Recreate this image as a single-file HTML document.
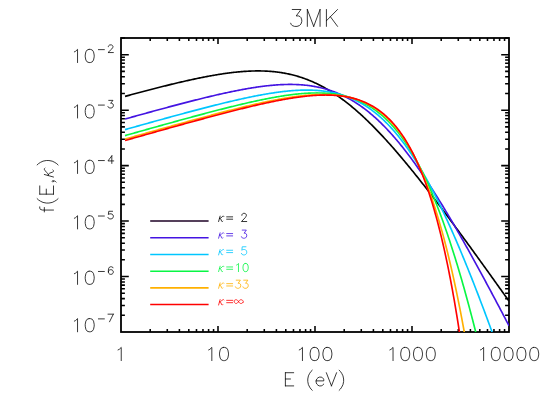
<!DOCTYPE html>
<html><head><meta charset="utf-8"><title>3MK</title>
<style>html,body{margin:0;padding:0;background:#fff;font-family:"Liberation Sans",sans-serif;}svg{display:block}</style>
</head><body>
<svg width="545" height="409" viewBox="0 0 545 409">
<rect width="545" height="409" fill="#fff"/>
<g fill="none" stroke-width="1.55">
<path d="M150.20 221.08 H208.60" stroke="#1c0024"/>
<path d="M150.20 237.77 H208.60" stroke="#4414e2"/>
<path d="M150.20 254.47 H208.60" stroke="#00c6ff"/>
<path d="M150.20 271.16 H208.60" stroke="#08f644"/>
<path d="M150.20 287.86 H208.60" stroke="#ffb000"/>
<path d="M150.20 304.56 H208.60" stroke="#ff0000"/>
</g>
<path d="M220.10 216.10 L218.60 221.53 M223.85 216.48 L223.47 216.10 L223.10 216.10 L222.35 216.48 L220.85 218.04 L220.10 218.42 L219.72 218.42 M219.72 218.42 L220.47 218.81 L220.85 219.20 L221.60 221.14 L221.97 221.53 L222.35 221.53 L222.72 221.14 M226.66 216.87 L232.66 216.87 M226.66 219.20 L232.66 219.20 M241.85 215.32 L241.85 214.93 L242.22 214.16 L242.60 213.77 L243.35 213.38 L244.85 213.38 L245.60 213.77 L245.97 214.16 L246.35 214.93 L246.35 215.71 L245.97 216.48 L245.22 217.65 L241.47 221.53 L246.72 221.53" fill="none" stroke="#000000" stroke-width="0.80" stroke-linecap="round" stroke-linejoin="round"/>
<path d="M220.10 232.79 L218.60 238.22 M223.85 233.18 L223.47 232.79 L223.10 232.79 L222.35 233.18 L220.85 234.73 L220.10 235.12 L219.72 235.12 M219.72 235.12 L220.47 235.51 L220.85 235.90 L221.60 237.84 L221.97 238.22 L222.35 238.22 L222.72 237.84 M226.66 233.57 L232.66 233.57 M226.66 235.90 L232.66 235.90 M242.22 230.08 L246.35 230.08 L244.10 233.18 L245.22 233.18 L245.97 233.57 L246.35 233.96 L246.72 235.12 L246.72 235.90 L246.35 237.06 L245.60 237.84 L244.47 238.22 L243.35 238.22 L242.22 237.84 L241.85 237.45 L241.47 236.67" fill="none" stroke="#4414e2" stroke-width="0.80" stroke-linecap="round" stroke-linejoin="round"/>
<path d="M220.10 249.49 L218.60 254.92 M223.85 249.87 L223.47 249.49 L223.10 249.49 L222.35 249.87 L220.85 251.43 L220.10 251.81 L219.72 251.81 M219.72 251.81 L220.47 252.20 L220.85 252.59 L221.60 254.53 L221.97 254.92 L222.35 254.92 L222.72 254.53 M226.66 250.26 L232.66 250.26 M226.66 252.59 L232.66 252.59 M245.97 246.77 L242.22 246.77 L241.85 250.26 L242.22 249.87 L243.35 249.49 L244.47 249.49 L245.60 249.87 L246.35 250.65 L246.72 251.81 L246.72 252.59 L246.35 253.75 L245.60 254.53 L244.47 254.92 L243.35 254.92 L242.22 254.53 L241.85 254.14 L241.47 253.37" fill="none" stroke="#00c6ff" stroke-width="0.80" stroke-linecap="round" stroke-linejoin="round"/>
<path d="M220.10 266.18 L218.60 271.61 M223.85 266.57 L223.47 266.18 L223.10 266.18 L222.35 266.57 L220.85 268.12 L220.10 268.51 L219.72 268.51 M219.72 268.51 L220.47 268.90 L220.85 269.29 L221.60 271.23 L221.97 271.61 L222.35 271.61 L222.72 271.23 M226.66 266.96 L232.66 266.96 M226.66 269.29 L232.66 269.29 M236.60 265.02 L237.35 264.63 L238.47 263.47 L238.47 271.61 M245.22 263.47 L244.10 263.85 L243.35 265.02 L242.97 266.96 L242.97 268.12 L243.35 270.06 L244.10 271.23 L245.22 271.61 L245.97 271.61 L247.10 271.23 L247.85 270.06 L248.22 268.12 L248.22 266.96 L247.85 265.02 L247.10 263.85 L245.97 263.47 L245.22 263.47" fill="none" stroke="#08f644" stroke-width="0.80" stroke-linecap="round" stroke-linejoin="round"/>
<path d="M220.10 282.88 L218.60 288.31 M223.85 283.27 L223.47 282.88 L223.10 282.88 L222.35 283.27 L220.85 284.82 L220.10 285.21 L219.72 285.21 M219.72 285.21 L220.47 285.59 L220.85 285.98 L221.60 287.92 L221.97 288.31 L222.35 288.31 L222.72 287.92 M226.66 283.65 L232.66 283.65 M226.66 285.98 L232.66 285.98 M236.22 280.16 L240.35 280.16 L238.10 283.27 L239.22 283.27 L239.97 283.65 L240.35 284.04 L240.72 285.21 L240.72 285.98 L240.35 287.15 L239.60 287.92 L238.47 288.31 L237.35 288.31 L236.22 287.92 L235.85 287.53 L235.47 286.76 M243.72 280.16 L247.85 280.16 L245.60 283.27 L246.72 283.27 L247.47 283.65 L247.85 284.04 L248.22 285.21 L248.22 285.98 L247.85 287.15 L247.10 287.92 L245.97 288.31 L244.85 288.31 L243.72 287.92 L243.35 287.53 L242.97 286.76" fill="none" stroke="#ffb000" stroke-width="0.80" stroke-linecap="round" stroke-linejoin="round"/>
<path d="M220.10 299.57 L218.60 305.01 M223.85 299.96 L223.47 299.57 L223.10 299.57 L222.35 299.96 L220.85 301.51 L220.10 301.90 L219.72 301.90 M219.72 301.90 L220.47 302.29 L220.85 302.68 L221.60 304.62 L221.97 305.01 L222.35 305.01 L222.72 304.62 M226.66 300.35 L232.66 300.35 M226.66 302.68 L232.66 302.68 M242.89 302.53 L242.43 302.99 L241.51 303.45 L240.59 303.45 L239.67 302.99 L239.22 302.53 L237.84 300.69 L237.38 300.23 L236.46 299.77 L235.54 299.77 L234.62 300.23 L234.16 300.69 L234.16 302.07 L234.62 302.53 L235.54 303.45 L236.46 303.45 L237.38 302.99 L237.84 302.53 L239.22 300.69 L239.67 300.23 L240.59 299.77 L241.51 299.77 L242.43 300.23 L242.89 300.69 L243.35 301.61 L242.89 302.53" fill="none" stroke="#ff0000" stroke-width="0.80" stroke-linecap="round" stroke-linejoin="round"/>
<rect x="121.0" y="38.0" width="388.0" height="294.0" fill="none" stroke="#000" stroke-width="1.8"/>
<path d="M150.20 332.00 v-2.90 M150.20 38.00 v2.90 M167.28 332.00 v-2.90 M167.28 38.00 v2.90 M179.40 332.00 v-2.90 M179.40 38.00 v2.90 M188.80 332.00 v-2.90 M188.80 38.00 v2.90 M196.48 332.00 v-2.90 M196.48 38.00 v2.90 M202.97 332.00 v-2.90 M202.97 38.00 v2.90 M208.60 332.00 v-2.90 M208.60 38.00 v2.90 M213.56 332.00 v-2.90 M213.56 38.00 v2.90 M218.00 332.00 v-5.90 M218.00 38.00 v5.90 M247.20 332.00 v-2.90 M247.20 38.00 v2.90 M264.28 332.00 v-2.90 M264.28 38.00 v2.90 M276.40 332.00 v-2.90 M276.40 38.00 v2.90 M285.80 332.00 v-2.90 M285.80 38.00 v2.90 M293.48 332.00 v-2.90 M293.48 38.00 v2.90 M299.97 332.00 v-2.90 M299.97 38.00 v2.90 M305.60 332.00 v-2.90 M305.60 38.00 v2.90 M310.56 332.00 v-2.90 M310.56 38.00 v2.90 M315.00 332.00 v-5.90 M315.00 38.00 v5.90 M344.20 332.00 v-2.90 M344.20 38.00 v2.90 M361.28 332.00 v-2.90 M361.28 38.00 v2.90 M373.40 332.00 v-2.90 M373.40 38.00 v2.90 M382.80 332.00 v-2.90 M382.80 38.00 v2.90 M390.48 332.00 v-2.90 M390.48 38.00 v2.90 M396.97 332.00 v-2.90 M396.97 38.00 v2.90 M402.60 332.00 v-2.90 M402.60 38.00 v2.90 M407.56 332.00 v-2.90 M407.56 38.00 v2.90 M412.00 332.00 v-5.90 M412.00 38.00 v5.90 M441.20 332.00 v-2.90 M441.20 38.00 v2.90 M458.28 332.00 v-2.90 M458.28 38.00 v2.90 M470.40 332.00 v-2.90 M470.40 38.00 v2.90 M479.80 332.00 v-2.90 M479.80 38.00 v2.90 M487.48 332.00 v-2.90 M487.48 38.00 v2.90 M493.97 332.00 v-2.90 M493.97 38.00 v2.90 M499.60 332.00 v-2.90 M499.60 38.00 v2.90 M504.56 332.00 v-2.90 M504.56 38.00 v2.90 M121.00 315.30 h3.90 M509.00 315.30 h-3.90 M121.00 305.54 h3.90 M509.00 305.54 h-3.90 M121.00 298.61 h3.90 M509.00 298.61 h-3.90 M121.00 293.23 h3.90 M509.00 293.23 h-3.90 M121.00 288.84 h3.90 M509.00 288.84 h-3.90 M121.00 285.13 h3.90 M509.00 285.13 h-3.90 M121.00 281.91 h3.90 M509.00 281.91 h-3.90 M121.00 279.08 h3.90 M509.00 279.08 h-3.90 M121.00 276.54 h7.80 M509.00 276.54 h-7.80 M121.00 259.84 h3.90 M509.00 259.84 h-3.90 M121.00 250.08 h3.90 M509.00 250.08 h-3.90 M121.00 243.15 h3.90 M509.00 243.15 h-3.90 M121.00 237.77 h3.90 M509.00 237.77 h-3.90 M121.00 233.38 h3.90 M509.00 233.38 h-3.90 M121.00 229.67 h3.90 M509.00 229.67 h-3.90 M121.00 226.45 h3.90 M509.00 226.45 h-3.90 M121.00 223.62 h3.90 M509.00 223.62 h-3.90 M121.00 221.08 h7.80 M509.00 221.08 h-7.80 M121.00 204.38 h3.90 M509.00 204.38 h-3.90 M121.00 194.62 h3.90 M509.00 194.62 h-3.90 M121.00 187.69 h3.90 M509.00 187.69 h-3.90 M121.00 182.31 h3.90 M509.00 182.31 h-3.90 M121.00 177.92 h3.90 M509.00 177.92 h-3.90 M121.00 174.21 h3.90 M509.00 174.21 h-3.90 M121.00 170.99 h3.90 M509.00 170.99 h-3.90 M121.00 168.15 h3.90 M509.00 168.15 h-3.90 M121.00 165.62 h7.80 M509.00 165.62 h-7.80 M121.00 148.92 h3.90 M509.00 148.92 h-3.90 M121.00 139.16 h3.90 M509.00 139.16 h-3.90 M121.00 132.23 h3.90 M509.00 132.23 h-3.90 M121.00 126.85 h3.90 M509.00 126.85 h-3.90 M121.00 122.46 h3.90 M509.00 122.46 h-3.90 M121.00 118.75 h3.90 M509.00 118.75 h-3.90 M121.00 115.53 h3.90 M509.00 115.53 h-3.90 M121.00 112.69 h3.90 M509.00 112.69 h-3.90 M121.00 110.16 h7.80 M509.00 110.16 h-7.80 M121.00 93.46 h3.90 M509.00 93.46 h-3.90 M121.00 83.69 h3.90 M509.00 83.69 h-3.90 M121.00 76.77 h3.90 M509.00 76.77 h-3.90 M121.00 71.39 h3.90 M509.00 71.39 h-3.90 M121.00 67.00 h3.90 M509.00 67.00 h-3.90 M121.00 63.29 h3.90 M509.00 63.29 h-3.90 M121.00 60.07 h3.90 M509.00 60.07 h-3.90 M121.00 57.23 h3.90 M509.00 57.23 h-3.90 M121.00 54.70 h7.80 M509.00 54.70 h-7.80 M121.00 38.00 h3.90 M509.00 38.00 h-3.90" fill="none" stroke="#000" stroke-width="1.55"/>
<defs><clipPath id="c"><rect x="121.0" y="38.0" width="388.0" height="294.0"/></clipPath></defs>
<g clip-path="url(#c)" fill="none" stroke-width="1.65" stroke-linejoin="round">
<path d="M125.02 96.38 L125.98 96.12 L126.94 95.86 L127.89 95.60 L128.85 95.34 L129.81 95.08 L130.77 94.82 L131.73 94.56 L132.69 94.31 L133.65 94.05 L134.61 93.79 L135.57 93.53 L136.53 93.28 L137.49 93.02 L138.45 92.77 L139.41 92.51 L140.37 92.26 L141.33 92.00 L142.29 91.75 L143.25 91.50 L144.21 91.24 L145.17 90.99 L146.13 90.74 L147.09 90.49 L148.05 90.24 L149.01 89.99 L149.97 89.74 L150.93 89.49 L151.89 89.24 L152.85 88.99 L153.81 88.74 L154.77 88.50 L155.73 88.25 L156.69 88.00 L157.65 87.76 L158.61 87.51 L159.57 87.27 L160.53 87.03 L161.49 86.79 L162.45 86.54 L163.41 86.30 L164.37 86.06 L165.33 85.83 L166.29 85.59 L167.25 85.35 L168.21 85.11 L169.17 84.88 L170.13 84.64 L171.09 84.41 L172.05 84.17 L173.01 83.94 L173.97 83.71 L174.93 83.48 L175.89 83.25 L176.85 83.02 L177.81 82.80 L178.77 82.57 L179.73 82.34 L180.69 82.12 L181.65 81.90 L182.61 81.68 L183.57 81.45 L184.53 81.24 L185.49 81.02 L186.45 80.80 L187.41 80.58 L188.37 80.37 L189.33 80.16 L190.29 79.95 L191.25 79.74 L192.21 79.53 L193.17 79.32 L194.13 79.11 L195.09 78.91 L196.05 78.71 L197.01 78.50 L197.97 78.30 L198.93 78.11 L199.89 77.91 L200.85 77.72 L201.81 77.52 L202.77 77.33 L203.73 77.14 L204.69 76.95 L205.65 76.77 L206.61 76.59 L207.57 76.40 L208.53 76.22 L209.49 76.05 L210.45 75.87 L211.41 75.70 L212.37 75.53 L213.33 75.36 L214.29 75.19 L215.25 75.03 L216.21 74.86 L217.17 74.71 L218.13 74.55 L219.09 74.39 L220.05 74.24 L221.01 74.09 L221.97 73.95 L222.93 73.80 L223.89 73.66 L224.85 73.52 L225.81 73.39 L226.77 73.25 L227.73 73.12 L228.69 73.00 L229.65 72.87 L230.61 72.75 L231.57 72.64 L232.53 72.52 L233.49 72.41 L234.45 72.30 L235.41 72.20 L236.37 72.10 L237.33 72.00 L238.29 71.91 L239.25 71.82 L240.21 71.74 L241.17 71.65 L242.13 71.58 L243.09 71.50 L244.05 71.43 L245.01 71.37 L245.97 71.31 L246.93 71.25 L247.89 71.20 L248.85 71.15 L249.81 71.10 L250.77 71.06 L251.73 71.03 L252.69 71.00 L253.65 70.97 L254.61 70.95 L255.57 70.94 L256.53 70.93 L257.49 70.92 L258.45 70.92 L259.41 70.93 L260.37 70.94 L261.33 70.95 L262.29 70.97 L263.25 71.00 L264.21 71.03 L265.17 71.07 L266.13 71.12 L267.09 71.16 L268.05 71.22 L269.01 71.28 L269.97 71.35 L270.93 71.43 L271.89 71.51 L272.85 71.59 L273.81 71.69 L274.77 71.79 L275.73 71.89 L276.69 72.01 L277.65 72.13 L278.61 72.25 L279.57 72.39 L280.53 72.53 L281.49 72.68 L282.45 72.83 L283.41 72.99 L284.37 73.16 L285.33 73.34 L286.29 73.53 L287.25 73.72 L288.21 73.92 L289.17 74.13 L290.13 74.34 L291.09 74.57 L292.05 74.80 L293.01 75.04 L293.97 75.29 L294.93 75.54 L295.89 75.81 L296.85 76.08 L297.81 76.36 L298.77 76.65 L299.73 76.94 L300.69 77.25 L301.65 77.57 L302.61 77.89 L303.57 78.22 L304.53 78.56 L305.49 78.91 L306.45 79.27 L307.41 79.64 L308.37 80.01 L309.33 80.40 L310.29 80.79 L311.25 81.20 L312.21 81.61 L313.17 82.03 L314.13 82.46 L315.09 82.90 L316.05 83.35 L317.01 83.81 L317.97 84.28 L318.93 84.75 L319.89 85.24 L320.85 85.74 L321.81 86.24 L322.77 86.76 L323.73 87.28 L324.69 87.81 L325.65 88.36 L326.61 88.91 L327.57 89.47 L328.53 90.04 L329.49 90.62 L330.45 91.21 L331.41 91.81 L332.37 92.42 L333.33 93.03 L334.29 93.66 L335.25 94.30 L336.21 94.94 L337.17 95.60 L338.13 96.26 L339.09 96.93 L340.05 97.61 L341.01 98.31 L341.97 99.01 L342.93 99.72 L343.89 100.43 L344.85 101.16 L345.81 101.90 L346.77 102.64 L347.73 103.40 L348.69 104.16 L349.65 104.93 L350.61 105.71 L351.57 106.50 L352.53 107.30 L353.49 108.10 L354.45 108.92 L355.41 109.74 L356.37 110.57 L357.33 111.41 L358.29 112.26 L359.25 113.11 L360.21 113.98 L361.17 114.85 L362.13 115.73 L363.09 116.61 L364.05 117.51 L365.01 118.41 L365.97 119.32 L366.93 120.24 L367.89 121.16 L368.85 122.10 L369.81 123.04 L370.77 123.98 L371.73 124.94 L372.69 125.90 L373.65 126.87 L374.61 127.84 L375.57 128.82 L376.53 129.81 L377.49 130.81 L378.45 131.81 L379.41 132.82 L380.37 133.83 L381.33 134.86 L382.28 135.88 L383.24 136.92 L384.20 137.96 L385.16 139.00 L386.12 140.05 L387.08 141.11 L388.04 142.18 L389.00 143.24 L389.96 144.32 L390.92 145.40 L391.88 146.48 L392.84 147.58 L393.80 148.67 L394.76 149.77 L395.72 150.88 L396.68 151.99 L397.64 153.11 L398.60 154.23 L399.56 155.36 L400.52 156.49 L401.48 157.62 L402.44 158.76 L403.40 159.91 L404.36 161.06 L405.32 162.21 L406.28 163.37 L407.24 164.53 L408.20 165.69 L409.16 166.86 L410.12 168.04 L411.08 169.22 L412.04 170.40 L413.00 171.58 L413.96 172.77 L414.92 173.97 L415.88 175.16 L416.84 176.36 L417.80 177.57 L418.76 178.78 L419.72 179.99 L420.68 181.20 L421.64 182.42 L422.60 183.64 L423.56 184.86 L424.52 186.09 L425.48 187.32 L426.44 188.55 L427.40 189.78 L428.36 191.02 L429.32 192.26 L430.28 193.51 L431.24 194.75 L432.20 196.00 L433.16 197.25 L434.12 198.51 L435.08 199.76 L436.04 201.02 L437.00 202.28 L437.96 203.55 L438.92 204.81 L439.88 206.08 L440.84 207.35 L441.80 208.62 L442.76 209.90 L443.72 211.18 L444.68 212.45 L445.64 213.73 L446.60 215.02 L447.56 216.30 L448.52 217.59 L449.48 218.88 L450.44 220.17 L451.40 221.46 L452.36 222.75 L453.32 224.05 L454.28 225.34 L455.24 226.64 L456.20 227.94 L457.16 229.24 L458.12 230.55 L459.08 231.85 L460.04 233.16 L461.00 234.47 L461.96 235.77 L462.92 237.09 L463.88 238.40 L464.84 239.71 L465.80 241.02 L466.76 242.34 L467.72 243.66 L468.68 244.97 L469.64 246.29 L470.60 247.61 L471.56 248.94 L472.52 250.26 L473.48 251.58 L474.44 252.91 L475.40 254.23 L476.36 255.56 L477.32 256.89 L478.28 258.21 L479.24 259.54 L480.20 260.88 L481.16 262.21 L482.12 263.54 L483.08 264.87 L484.04 266.21 L485.00 267.54 L485.96 268.88 L486.92 270.21 L487.88 271.55 L488.84 272.89 L489.80 274.23 L490.76 275.57 L491.72 276.91 L492.68 278.25 L493.64 279.59 L494.60 280.93 L495.56 282.28 L496.52 283.62 L497.48 284.96 L498.44 286.31 L499.40 287.66 L500.36 289.00 L501.32 290.35 L502.28 291.70 L503.24 293.04 L504.20 294.39 L505.16 295.74 L506.12 297.09 L507.08 298.44 L508.04 299.79 L509.00 301.14" stroke="#000000"/>
<path d="M125.02 119.04 L125.98 118.77 L126.94 118.50 L127.89 118.23 L128.85 117.97 L129.81 117.70 L130.77 117.43 L131.73 117.16 L132.69 116.90 L133.65 116.63 L134.61 116.36 L135.57 116.10 L136.53 115.83 L137.49 115.56 L138.45 115.30 L139.41 115.03 L140.37 114.77 L141.33 114.50 L142.29 114.24 L143.25 113.97 L144.21 113.71 L145.17 113.44 L146.13 113.18 L147.09 112.91 L148.05 112.65 L149.01 112.39 L149.97 112.12 L150.93 111.86 L151.89 111.60 L152.85 111.33 L153.81 111.07 L154.77 110.81 L155.73 110.55 L156.69 110.29 L157.65 110.02 L158.61 109.76 L159.57 109.50 L160.53 109.24 L161.49 108.98 L162.45 108.72 L163.41 108.46 L164.37 108.21 L165.33 107.95 L166.29 107.69 L167.25 107.43 L168.21 107.17 L169.17 106.92 L170.13 106.66 L171.09 106.40 L172.05 106.15 L173.01 105.89 L173.97 105.64 L174.93 105.38 L175.89 105.13 L176.85 104.88 L177.81 104.62 L178.77 104.37 L179.73 104.12 L180.69 103.87 L181.65 103.62 L182.61 103.37 L183.57 103.12 L184.53 102.87 L185.49 102.62 L186.45 102.37 L187.41 102.12 L188.37 101.87 L189.33 101.63 L190.29 101.38 L191.25 101.14 L192.21 100.89 L193.17 100.65 L194.13 100.40 L195.09 100.16 L196.05 99.92 L197.01 99.68 L197.97 99.44 L198.93 99.20 L199.89 98.96 L200.85 98.72 L201.81 98.49 L202.77 98.25 L203.73 98.02 L204.69 97.78 L205.65 97.55 L206.61 97.32 L207.57 97.08 L208.53 96.85 L209.49 96.62 L210.45 96.39 L211.41 96.17 L212.37 95.94 L213.33 95.72 L214.29 95.49 L215.25 95.27 L216.21 95.05 L217.17 94.82 L218.13 94.60 L219.09 94.39 L220.05 94.17 L221.01 93.95 L221.97 93.74 L222.93 93.53 L223.89 93.31 L224.85 93.10 L225.81 92.89 L226.77 92.69 L227.73 92.48 L228.69 92.28 L229.65 92.07 L230.61 91.87 L231.57 91.67 L232.53 91.47 L233.49 91.28 L234.45 91.08 L235.41 90.89 L236.37 90.70 L237.33 90.51 L238.29 90.32 L239.25 90.14 L240.21 89.95 L241.17 89.77 L242.13 89.59 L243.09 89.41 L244.05 89.24 L245.01 89.07 L245.97 88.89 L246.93 88.73 L247.89 88.56 L248.85 88.40 L249.81 88.23 L250.77 88.08 L251.73 87.92 L252.69 87.77 L253.65 87.61 L254.61 87.47 L255.57 87.32 L256.53 87.18 L257.49 87.04 L258.45 86.90 L259.41 86.76 L260.37 86.63 L261.33 86.50 L262.29 86.38 L263.25 86.26 L264.21 86.14 L265.17 86.02 L266.13 85.91 L267.09 85.80 L268.05 85.70 L269.01 85.60 L269.97 85.50 L270.93 85.41 L271.89 85.32 L272.85 85.23 L273.81 85.15 L274.77 85.07 L275.73 84.99 L276.69 84.92 L277.65 84.86 L278.61 84.80 L279.57 84.74 L280.53 84.69 L281.49 84.64 L282.45 84.60 L283.41 84.56 L284.37 84.52 L285.33 84.50 L286.29 84.47 L287.25 84.45 L288.21 84.44 L289.17 84.43 L290.13 84.43 L291.09 84.43 L292.05 84.44 L293.01 84.46 L293.97 84.47 L294.93 84.50 L295.89 84.53 L296.85 84.57 L297.81 84.61 L298.77 84.66 L299.73 84.72 L300.69 84.78 L301.65 84.85 L302.61 84.93 L303.57 85.01 L304.53 85.10 L305.49 85.20 L306.45 85.30 L307.41 85.41 L308.37 85.53 L309.33 85.66 L310.29 85.79 L311.25 85.93 L312.21 86.08 L313.17 86.24 L314.13 86.40 L315.09 86.57 L316.05 86.75 L317.01 86.94 L317.97 87.14 L318.93 87.34 L319.89 87.56 L320.85 87.78 L321.81 88.01 L322.77 88.25 L323.73 88.50 L324.69 88.76 L325.65 89.03 L326.61 89.31 L327.57 89.59 L328.53 89.89 L329.49 90.20 L330.45 90.51 L331.41 90.84 L332.37 91.18 L333.33 91.52 L334.29 91.88 L335.25 92.24 L336.21 92.62 L337.17 93.01 L338.13 93.41 L339.09 93.82 L340.05 94.23 L341.01 94.66 L341.97 95.11 L342.93 95.56 L343.89 96.02 L344.85 96.50 L345.81 96.98 L346.77 97.48 L347.73 97.99 L348.69 98.51 L349.65 99.04 L350.61 99.58 L351.57 100.14 L352.53 100.71 L353.49 101.28 L354.45 101.87 L355.41 102.48 L356.37 103.09 L357.33 103.72 L358.29 104.36 L359.25 105.01 L360.21 105.67 L361.17 106.35 L362.13 107.04 L363.09 107.74 L364.05 108.45 L365.01 109.17 L365.97 109.91 L366.93 110.66 L367.89 111.42 L368.85 112.20 L369.81 112.99 L370.77 113.78 L371.73 114.60 L372.69 115.42 L373.65 116.26 L374.61 117.11 L375.57 117.97 L376.53 118.85 L377.49 119.73 L378.45 120.63 L379.41 121.55 L380.37 122.47 L381.33 123.41 L382.28 124.36 L383.24 125.32 L384.20 126.29 L385.16 127.28 L386.12 128.28 L387.08 129.29 L388.04 130.31 L389.00 131.34 L389.96 132.39 L390.92 133.45 L391.88 134.52 L392.84 135.60 L393.80 136.70 L394.76 137.80 L395.72 138.92 L396.68 140.05 L397.64 141.19 L398.60 142.34 L399.56 143.51 L400.52 144.68 L401.48 145.87 L402.44 147.06 L403.40 148.27 L404.36 149.49 L405.32 150.72 L406.28 151.96 L407.24 153.21 L408.20 154.47 L409.16 155.74 L410.12 157.03 L411.08 158.32 L412.04 159.62 L413.00 160.94 L413.96 162.26 L414.92 163.59 L415.88 164.93 L416.84 166.29 L417.80 167.65 L418.76 169.02 L419.72 170.40 L420.68 171.79 L421.64 173.19 L422.60 174.60 L423.56 176.01 L424.52 177.44 L425.48 178.87 L426.44 180.32 L427.40 181.77 L428.36 183.23 L429.32 184.70 L430.28 186.17 L431.24 187.66 L432.20 189.15 L433.16 190.65 L434.12 192.16 L435.08 193.67 L436.04 195.19 L437.00 196.72 L437.96 198.26 L438.92 199.81 L439.88 201.36 L440.84 202.92 L441.80 204.48 L442.76 206.05 L443.72 207.63 L444.68 209.22 L445.64 210.81 L446.60 212.41 L447.56 214.01 L448.52 215.62 L449.48 217.24 L450.44 218.86 L451.40 220.49 L452.36 222.12 L453.32 223.76 L454.28 225.41 L455.24 227.06 L456.20 228.71 L457.16 230.38 L458.12 232.04 L459.08 233.71 L460.04 235.39 L461.00 237.07 L461.96 238.76 L462.92 240.45 L463.88 242.14 L464.84 243.84 L465.80 245.55 L466.76 247.26 L467.72 248.97 L468.68 250.69 L469.64 252.41 L470.60 254.14 L471.56 255.87 L472.52 257.60 L473.48 259.34 L474.44 261.08 L475.40 262.82 L476.36 264.57 L477.32 266.33 L478.28 268.08 L479.24 269.84 L480.20 271.60 L481.16 273.37 L482.12 275.14 L483.08 276.91 L484.04 278.69 L485.00 280.47 L485.96 282.25 L486.92 284.03 L487.88 285.82 L488.84 287.61 L489.80 289.40 L490.76 291.20 L491.72 293.00 L492.68 294.80 L493.64 296.60 L494.60 298.41 L495.56 300.22 L496.52 302.03 L497.48 303.84 L498.44 305.66 L499.40 307.48 L500.36 309.30 L501.32 311.12 L502.28 312.94 L503.24 314.77 L504.20 316.60 L505.16 318.43 L506.12 320.26 L507.08 322.09 L508.04 323.93 L509.00 325.77" stroke="#4414e2"/>
<path d="M125.02 129.64 L125.98 129.37 L126.94 129.10 L127.89 128.83 L128.85 128.56 L129.81 128.29 L130.77 128.02 L131.73 127.75 L132.69 127.48 L133.65 127.21 L134.61 126.94 L135.57 126.67 L136.53 126.40 L137.49 126.13 L138.45 125.86 L139.41 125.60 L140.37 125.33 L141.33 125.06 L142.29 124.79 L143.25 124.52 L144.21 124.25 L145.17 123.99 L146.13 123.72 L147.09 123.45 L148.05 123.18 L149.01 122.91 L149.97 122.65 L150.93 122.38 L151.89 122.11 L152.85 121.85 L153.81 121.58 L154.77 121.31 L155.73 121.05 L156.69 120.78 L157.65 120.52 L158.61 120.25 L159.57 119.98 L160.53 119.72 L161.49 119.45 L162.45 119.19 L163.41 118.92 L164.37 118.66 L165.33 118.40 L166.29 118.13 L167.25 117.87 L168.21 117.60 L169.17 117.34 L170.13 117.08 L171.09 116.82 L172.05 116.55 L173.01 116.29 L173.97 116.03 L174.93 115.77 L175.89 115.51 L176.85 115.25 L177.81 114.99 L178.77 114.73 L179.73 114.47 L180.69 114.21 L181.65 113.95 L182.61 113.69 L183.57 113.43 L184.53 113.17 L185.49 112.91 L186.45 112.65 L187.41 112.40 L188.37 112.14 L189.33 111.88 L190.29 111.63 L191.25 111.37 L192.21 111.12 L193.17 110.86 L194.13 110.61 L195.09 110.36 L196.05 110.10 L197.01 109.85 L197.97 109.60 L198.93 109.35 L199.89 109.09 L200.85 108.84 L201.81 108.59 L202.77 108.34 L203.73 108.10 L204.69 107.85 L205.65 107.60 L206.61 107.35 L207.57 107.11 L208.53 106.86 L209.49 106.61 L210.45 106.37 L211.41 106.13 L212.37 105.88 L213.33 105.64 L214.29 105.40 L215.25 105.16 L216.21 104.92 L217.17 104.68 L218.13 104.44 L219.09 104.20 L220.05 103.96 L221.01 103.73 L221.97 103.49 L222.93 103.26 L223.89 103.02 L224.85 102.79 L225.81 102.56 L226.77 102.33 L227.73 102.10 L228.69 101.87 L229.65 101.64 L230.61 101.42 L231.57 101.19 L232.53 100.97 L233.49 100.74 L234.45 100.52 L235.41 100.30 L236.37 100.08 L237.33 99.86 L238.29 99.64 L239.25 99.43 L240.21 99.21 L241.17 99.00 L242.13 98.79 L243.09 98.58 L244.05 98.37 L245.01 98.16 L245.97 97.96 L246.93 97.75 L247.89 97.55 L248.85 97.35 L249.81 97.15 L250.77 96.95 L251.73 96.75 L252.69 96.56 L253.65 96.37 L254.61 96.18 L255.57 95.99 L256.53 95.80 L257.49 95.62 L258.45 95.43 L259.41 95.25 L260.37 95.07 L261.33 94.90 L262.29 94.72 L263.25 94.55 L264.21 94.38 L265.17 94.21 L266.13 94.05 L267.09 93.88 L268.05 93.72 L269.01 93.56 L269.97 93.41 L270.93 93.26 L271.89 93.11 L272.85 92.96 L273.81 92.81 L274.77 92.67 L275.73 92.53 L276.69 92.40 L277.65 92.27 L278.61 92.14 L279.57 92.01 L280.53 91.89 L281.49 91.77 L282.45 91.65 L283.41 91.54 L284.37 91.43 L285.33 91.32 L286.29 91.22 L287.25 91.12 L288.21 91.03 L289.17 90.94 L290.13 90.85 L291.09 90.77 L292.05 90.69 L293.01 90.62 L293.97 90.55 L294.93 90.48 L295.89 90.42 L296.85 90.37 L297.81 90.31 L298.77 90.27 L299.73 90.23 L300.69 90.19 L301.65 90.16 L302.61 90.13 L303.57 90.11 L304.53 90.09 L305.49 90.08 L306.45 90.08 L307.41 90.08 L308.37 90.09 L309.33 90.10 L310.29 90.12 L311.25 90.14 L312.21 90.17 L313.17 90.21 L314.13 90.26 L315.09 90.31 L316.05 90.36 L317.01 90.43 L317.97 90.50 L318.93 90.58 L319.89 90.66 L320.85 90.76 L321.81 90.86 L322.77 90.96 L323.73 91.08 L324.69 91.20 L325.65 91.34 L326.61 91.48 L327.57 91.62 L328.53 91.78 L329.49 91.95 L330.45 92.12 L331.41 92.30 L332.37 92.49 L333.33 92.70 L334.29 92.91 L335.25 93.13 L336.21 93.36 L337.17 93.60 L338.13 93.85 L339.09 94.11 L340.05 94.38 L341.01 94.66 L341.97 94.95 L342.93 95.25 L343.89 95.56 L344.85 95.88 L345.81 96.22 L346.77 96.57 L347.73 96.92 L348.69 97.29 L349.65 97.67 L350.61 98.07 L351.57 98.47 L352.53 98.89 L353.49 99.32 L354.45 99.77 L355.41 100.22 L356.37 100.69 L357.33 101.17 L358.29 101.67 L359.25 102.18 L360.21 102.70 L361.17 103.24 L362.13 103.79 L363.09 104.35 L364.05 104.93 L365.01 105.53 L365.97 106.14 L366.93 106.76 L367.89 107.40 L368.85 108.05 L369.81 108.72 L370.77 109.40 L371.73 110.10 L372.69 110.82 L373.65 111.55 L374.61 112.30 L375.57 113.06 L376.53 113.84 L377.49 114.64 L378.45 115.45 L379.41 116.28 L380.37 117.13 L381.33 117.99 L382.28 118.87 L383.24 119.76 L384.20 120.68 L385.16 121.61 L386.12 122.56 L387.08 123.53 L388.04 124.51 L389.00 125.51 L389.96 126.53 L390.92 127.57 L391.88 128.63 L392.84 129.70 L393.80 130.79 L394.76 131.90 L395.72 133.03 L396.68 134.18 L397.64 135.35 L398.60 136.53 L399.56 137.73 L400.52 138.95 L401.48 140.19 L402.44 141.45 L403.40 142.73 L404.36 144.03 L405.32 145.34 L406.28 146.67 L407.24 148.03 L408.20 149.40 L409.16 150.79 L410.12 152.20 L411.08 153.62 L412.04 155.07 L413.00 156.53 L413.96 158.02 L414.92 159.52 L415.88 161.04 L416.84 162.58 L417.80 164.14 L418.76 165.71 L419.72 167.31 L420.68 168.92 L421.64 170.55 L422.60 172.20 L423.56 173.87 L424.52 175.56 L425.48 177.26 L426.44 178.98 L427.40 180.72 L428.36 182.48 L429.32 184.25 L430.28 186.05 L431.24 187.86 L432.20 189.69 L433.16 191.53 L434.12 193.39 L435.08 195.27 L436.04 197.17 L437.00 199.08 L437.96 201.01 L438.92 202.96 L439.88 204.92 L440.84 206.90 L441.80 208.89 L442.76 210.90 L443.72 212.93 L444.68 214.97 L445.64 217.03 L446.60 219.11 L447.56 221.19 L448.52 223.30 L449.48 225.42 L450.44 227.55 L451.40 229.70 L452.36 231.86 L453.32 234.04 L454.28 236.23 L455.24 238.44 L456.20 240.66 L457.16 242.89 L458.12 245.14 L459.08 247.40 L460.04 249.67 L461.00 251.96 L461.96 254.26 L462.92 256.57 L463.88 258.89 L464.84 261.23 L465.80 263.58 L466.76 265.94 L467.72 268.31 L468.68 270.70 L469.64 273.10 L470.60 275.50 L471.56 277.92 L472.52 280.35 L473.48 282.79 L474.44 285.25 L475.40 287.71 L476.36 290.18 L477.32 292.67 L478.28 295.16 L479.24 297.66 L480.20 300.18 L481.16 302.70 L482.12 305.23 L483.08 307.77 L484.04 310.32 L485.00 312.88 L485.96 315.45 L486.92 318.03 L487.88 320.62 L488.84 323.21 L489.80 325.82 L490.76 328.43 L491.72 331.05 L492.68 333.68 L493.64 336.31 L494.60 338.95 L495.56 341.60 L496.52 344.26 L497.48 346.93 L498.44 349.60 L499.40 352.28 L500.36 354.96 L501.32 357.66 L502.28 360.36 L503.24 363.06 L504.20 365.78 L505.16 368.49 L506.12 371.22 L507.08 373.95 L508.04 376.69 L509.00 379.43" stroke="#00c6ff"/>
<path d="M125.02 135.61 L125.98 135.34 L126.94 135.07 L127.89 134.80 L128.85 134.53 L129.81 134.25 L130.77 133.98 L131.73 133.71 L132.69 133.44 L133.65 133.17 L134.61 132.90 L135.57 132.63 L136.53 132.36 L137.49 132.09 L138.45 131.82 L139.41 131.55 L140.37 131.28 L141.33 131.01 L142.29 130.74 L143.25 130.47 L144.21 130.20 L145.17 129.93 L146.13 129.66 L147.09 129.39 L148.05 129.12 L149.01 128.85 L149.97 128.58 L150.93 128.31 L151.89 128.04 L152.85 127.78 L153.81 127.51 L154.77 127.24 L155.73 126.97 L156.69 126.70 L157.65 126.43 L158.61 126.17 L159.57 125.90 L160.53 125.63 L161.49 125.36 L162.45 125.10 L163.41 124.83 L164.37 124.56 L165.33 124.30 L166.29 124.03 L167.25 123.76 L168.21 123.50 L169.17 123.23 L170.13 122.97 L171.09 122.70 L172.05 122.44 L173.01 122.17 L173.97 121.91 L174.93 121.64 L175.89 121.38 L176.85 121.11 L177.81 120.85 L178.77 120.58 L179.73 120.32 L180.69 120.06 L181.65 119.79 L182.61 119.53 L183.57 119.27 L184.53 119.01 L185.49 118.75 L186.45 118.48 L187.41 118.22 L188.37 117.96 L189.33 117.70 L190.29 117.44 L191.25 117.18 L192.21 116.92 L193.17 116.66 L194.13 116.40 L195.09 116.14 L196.05 115.88 L197.01 115.63 L197.97 115.37 L198.93 115.11 L199.89 114.86 L200.85 114.60 L201.81 114.34 L202.77 114.09 L203.73 113.83 L204.69 113.58 L205.65 113.32 L206.61 113.07 L207.57 112.82 L208.53 112.56 L209.49 112.31 L210.45 112.06 L211.41 111.81 L212.37 111.56 L213.33 111.31 L214.29 111.06 L215.25 110.81 L216.21 110.56 L217.17 110.31 L218.13 110.06 L219.09 109.82 L220.05 109.57 L221.01 109.33 L221.97 109.08 L222.93 108.84 L223.89 108.59 L224.85 108.35 L225.81 108.11 L226.77 107.87 L227.73 107.63 L228.69 107.39 L229.65 107.15 L230.61 106.91 L231.57 106.67 L232.53 106.44 L233.49 106.20 L234.45 105.97 L235.41 105.73 L236.37 105.50 L237.33 105.27 L238.29 105.04 L239.25 104.81 L240.21 104.58 L241.17 104.35 L242.13 104.13 L243.09 103.90 L244.05 103.68 L245.01 103.45 L245.97 103.23 L246.93 103.01 L247.89 102.79 L248.85 102.57 L249.81 102.35 L250.77 102.14 L251.73 101.92 L252.69 101.71 L253.65 101.50 L254.61 101.29 L255.57 101.08 L256.53 100.87 L257.49 100.67 L258.45 100.46 L259.41 100.26 L260.37 100.06 L261.33 99.86 L262.29 99.66 L263.25 99.47 L264.21 99.27 L265.17 99.08 L266.13 98.89 L267.09 98.70 L268.05 98.51 L269.01 98.33 L269.97 98.15 L270.93 97.97 L271.89 97.79 L272.85 97.61 L273.81 97.44 L274.77 97.27 L275.73 97.10 L276.69 96.93 L277.65 96.76 L278.61 96.60 L279.57 96.44 L280.53 96.29 L281.49 96.13 L282.45 95.98 L283.41 95.83 L284.37 95.69 L285.33 95.54 L286.29 95.40 L287.25 95.27 L288.21 95.13 L289.17 95.00 L290.13 94.87 L291.09 94.75 L292.05 94.63 L293.01 94.51 L293.97 94.40 L294.93 94.29 L295.89 94.18 L296.85 94.08 L297.81 93.98 L298.77 93.88 L299.73 93.79 L300.69 93.70 L301.65 93.62 L302.61 93.54 L303.57 93.47 L304.53 93.40 L305.49 93.33 L306.45 93.27 L307.41 93.22 L308.37 93.17 L309.33 93.12 L310.29 93.08 L311.25 93.04 L312.21 93.01 L313.17 92.99 L314.13 92.97 L315.09 92.95 L316.05 92.95 L317.01 92.94 L317.97 92.95 L318.93 92.96 L319.89 92.97 L320.85 93.00 L321.81 93.02 L322.77 93.06 L323.73 93.10 L324.69 93.15 L325.65 93.21 L326.61 93.27 L327.57 93.34 L328.53 93.42 L329.49 93.51 L330.45 93.60 L331.41 93.70 L332.37 93.81 L333.33 93.93 L334.29 94.06 L335.25 94.19 L336.21 94.33 L337.17 94.49 L338.13 94.65 L339.09 94.82 L340.05 95.00 L341.01 95.19 L341.97 95.39 L342.93 95.60 L343.89 95.82 L344.85 96.05 L345.81 96.30 L346.77 96.55 L347.73 96.81 L348.69 97.09 L349.65 97.37 L350.61 97.67 L351.57 97.98 L352.53 98.30 L353.49 98.64 L354.45 98.98 L355.41 99.34 L356.37 99.72 L357.33 100.10 L358.29 100.50 L359.25 100.92 L360.21 101.35 L361.17 101.79 L362.13 102.24 L363.09 102.71 L364.05 103.20 L365.01 103.70 L365.97 104.22 L366.93 104.75 L367.89 105.30 L368.85 105.87 L369.81 106.45 L370.77 107.05 L371.73 107.66 L372.69 108.30 L373.65 108.95 L374.61 109.62 L375.57 110.30 L376.53 111.01 L377.49 111.73 L378.45 112.48 L379.41 113.24 L380.37 114.02 L381.33 114.83 L382.28 115.65 L383.24 116.49 L384.20 117.36 L385.16 118.24 L386.12 119.15 L387.08 120.08 L388.04 121.03 L389.00 122.01 L389.96 123.00 L390.92 124.02 L391.88 125.07 L392.84 126.13 L393.80 127.22 L394.76 128.34 L395.72 129.48 L396.68 130.64 L397.64 131.83 L398.60 133.05 L399.56 134.29 L400.52 135.55 L401.48 136.84 L402.44 138.16 L403.40 139.51 L404.36 140.88 L405.32 142.28 L406.28 143.71 L407.24 145.17 L408.20 146.65 L409.16 148.17 L410.12 149.71 L411.08 151.28 L412.04 152.88 L413.00 154.51 L413.96 156.17 L414.92 157.86 L415.88 159.58 L416.84 161.33 L417.80 163.11 L418.76 164.93 L419.72 166.77 L420.68 168.64 L421.64 170.55 L422.60 172.49 L423.56 174.46 L424.52 176.46 L425.48 178.50 L426.44 180.57 L427.40 182.67 L428.36 184.80 L429.32 186.97 L430.28 189.17 L431.24 191.40 L432.20 193.67 L433.16 195.97 L434.12 198.30 L435.08 200.67 L436.04 203.07 L437.00 205.51 L437.96 207.98 L438.92 210.48 L439.88 213.02 L440.84 215.59 L441.80 218.20 L442.76 220.84 L443.72 223.52 L444.68 226.23 L445.64 228.97 L446.60 231.75 L447.56 234.56 L448.52 237.41 L449.48 240.29 L450.44 243.21 L451.40 246.16 L452.36 249.14 L453.32 252.16 L454.28 255.21 L455.24 258.30 L456.20 261.42 L457.16 264.57 L458.12 267.76 L459.08 270.98 L460.04 274.24 L461.00 277.53 L461.96 280.85 L462.92 284.21 L463.88 287.59 L464.84 291.01 L465.80 294.47 L466.76 297.95 L467.72 301.47 L468.68 305.02 L469.64 308.60 L470.60 312.21 L471.56 315.86 L472.52 319.53 L473.48 323.24 L474.44 326.98 L475.40 330.75 L476.36 334.55 L477.32 338.37 L478.28 342.23 L479.24 346.12 L480.20 350.04 L481.16 353.99 L482.12 357.96 L483.08 361.96 L484.04 366.00 L485.00 370.06 L485.96 374.14 L486.92 378.26 L487.88 382.40 L488.84 386.57 L489.80 390.77 L490.76 394.99 L491.72 399.24 L492.68 403.51 L493.64 407.81 L494.60 412.14 L495.56 416.48 L496.52 420.86 L497.48 425.26 L498.44 429.68 L499.40 434.12 L500.36 438.59 L501.32 442.92 L502.28 442.92 L503.24 442.92 L504.20 442.92 L505.16 442.92 L506.12 442.92 L507.08 442.92 L508.04 442.92 L509.00 442.92" stroke="#08f644"/>
<path d="M125.02 139.12 L125.98 138.85 L126.94 138.58 L127.89 138.31 L128.85 138.03 L129.81 137.76 L130.77 137.49 L131.73 137.22 L132.69 136.95 L133.65 136.68 L134.61 136.41 L135.57 136.13 L136.53 135.86 L137.49 135.59 L138.45 135.32 L139.41 135.05 L140.37 134.78 L141.33 134.51 L142.29 134.24 L143.25 133.97 L144.21 133.70 L145.17 133.43 L146.13 133.16 L147.09 132.89 L148.05 132.62 L149.01 132.35 L149.97 132.08 L150.93 131.81 L151.89 131.54 L152.85 131.27 L153.81 131.00 L154.77 130.73 L155.73 130.46 L156.69 130.19 L157.65 129.92 L158.61 129.65 L159.57 129.38 L160.53 129.11 L161.49 128.85 L162.45 128.58 L163.41 128.31 L164.37 128.04 L165.33 127.77 L166.29 127.50 L167.25 127.24 L168.21 126.97 L169.17 126.70 L170.13 126.44 L171.09 126.17 L172.05 125.90 L173.01 125.63 L173.97 125.37 L174.93 125.10 L175.89 124.84 L176.85 124.57 L177.81 124.30 L178.77 124.04 L179.73 123.77 L180.69 123.51 L181.65 123.24 L182.61 122.98 L183.57 122.71 L184.53 122.45 L185.49 122.19 L186.45 121.92 L187.41 121.66 L188.37 121.40 L189.33 121.13 L190.29 120.87 L191.25 120.61 L192.21 120.35 L193.17 120.08 L194.13 119.82 L195.09 119.56 L196.05 119.30 L197.01 119.04 L197.97 118.78 L198.93 118.52 L199.89 118.26 L200.85 118.00 L201.81 117.74 L202.77 117.48 L203.73 117.22 L204.69 116.97 L205.65 116.71 L206.61 116.45 L207.57 116.19 L208.53 115.94 L209.49 115.68 L210.45 115.43 L211.41 115.17 L212.37 114.92 L213.33 114.66 L214.29 114.41 L215.25 114.16 L216.21 113.90 L217.17 113.65 L218.13 113.40 L219.09 113.15 L220.05 112.90 L221.01 112.65 L221.97 112.40 L222.93 112.15 L223.89 111.90 L224.85 111.65 L225.81 111.40 L226.77 111.16 L227.73 110.91 L228.69 110.67 L229.65 110.42 L230.61 110.18 L231.57 109.94 L232.53 109.69 L233.49 109.45 L234.45 109.21 L235.41 108.97 L236.37 108.73 L237.33 108.49 L238.29 108.25 L239.25 108.02 L240.21 107.78 L241.17 107.55 L242.13 107.31 L243.09 107.08 L244.05 106.85 L245.01 106.61 L245.97 106.38 L246.93 106.15 L247.89 105.93 L248.85 105.70 L249.81 105.47 L250.77 105.25 L251.73 105.02 L252.69 104.80 L253.65 104.58 L254.61 104.36 L255.57 104.14 L256.53 103.92 L257.49 103.70 L258.45 103.49 L259.41 103.27 L260.37 103.06 L261.33 102.85 L262.29 102.64 L263.25 102.43 L264.21 102.22 L265.17 102.02 L266.13 101.82 L267.09 101.61 L268.05 101.41 L269.01 101.21 L269.97 101.02 L270.93 100.82 L271.89 100.63 L272.85 100.44 L273.81 100.25 L274.77 100.06 L275.73 99.87 L276.69 99.69 L277.65 99.51 L278.61 99.33 L279.57 99.15 L280.53 98.98 L281.49 98.80 L282.45 98.63 L283.41 98.47 L284.37 98.30 L285.33 98.14 L286.29 97.98 L287.25 97.82 L288.21 97.66 L289.17 97.51 L290.13 97.36 L291.09 97.21 L292.05 97.07 L293.01 96.93 L293.97 96.79 L294.93 96.66 L295.89 96.53 L296.85 96.40 L297.81 96.27 L298.77 96.15 L299.73 96.03 L300.69 95.92 L301.65 95.81 L302.61 95.70 L303.57 95.60 L304.53 95.50 L305.49 95.40 L306.45 95.31 L307.41 95.22 L308.37 95.14 L309.33 95.06 L310.29 94.99 L311.25 94.92 L312.21 94.85 L313.17 94.79 L314.13 94.74 L315.09 94.69 L316.05 94.64 L317.01 94.60 L317.97 94.57 L318.93 94.54 L319.89 94.52 L320.85 94.50 L321.81 94.49 L322.77 94.48 L323.73 94.48 L324.69 94.49 L325.65 94.50 L326.61 94.52 L327.57 94.55 L328.53 94.58 L329.49 94.62 L330.45 94.67 L331.41 94.72 L332.37 94.78 L333.33 94.85 L334.29 94.93 L335.25 95.01 L336.21 95.11 L337.17 95.21 L338.13 95.32 L339.09 95.44 L340.05 95.56 L341.01 95.70 L341.97 95.84 L342.93 96.00 L343.89 96.16 L344.85 96.34 L345.81 96.52 L346.77 96.72 L347.73 96.92 L348.69 97.14 L349.65 97.37 L350.61 97.61 L351.57 97.86 L352.53 98.12 L353.49 98.39 L354.45 98.68 L355.41 98.98 L356.37 99.29 L357.33 99.61 L358.29 99.95 L359.25 100.30 L360.21 100.67 L361.17 101.05 L362.13 101.44 L363.09 101.85 L364.05 102.28 L365.01 102.71 L365.97 103.17 L366.93 103.64 L367.89 104.13 L368.85 104.64 L369.81 105.16 L370.77 105.70 L371.73 106.25 L372.69 106.83 L373.65 107.43 L374.61 108.04 L375.57 108.67 L376.53 109.33 L377.49 110.00 L378.45 110.69 L379.41 111.41 L380.37 112.15 L381.33 112.90 L382.28 113.69 L383.24 114.49 L384.20 115.32 L385.16 116.17 L386.12 117.04 L387.08 117.95 L388.04 118.87 L389.00 119.82 L389.96 120.80 L390.92 121.81 L391.88 122.84 L392.84 123.90 L393.80 124.99 L394.76 126.11 L395.72 127.26 L396.68 128.43 L397.64 129.64 L398.60 130.88 L399.56 132.16 L400.52 133.46 L401.48 134.80 L402.44 136.17 L403.40 137.58 L404.36 139.02 L405.32 140.50 L406.28 142.01 L407.24 143.56 L408.20 145.15 L409.16 146.78 L410.12 148.45 L411.08 150.15 L412.04 151.90 L413.00 153.69 L413.96 155.52 L414.92 157.40 L415.88 159.31 L416.84 161.28 L417.80 163.29 L418.76 165.34 L419.72 167.44 L420.68 169.59 L421.64 171.79 L422.60 174.03 L423.56 176.33 L424.52 178.67 L425.48 181.07 L426.44 183.53 L427.40 186.03 L428.36 188.59 L429.32 191.20 L430.28 193.87 L431.24 196.60 L432.20 199.39 L433.16 202.23 L434.12 205.14 L435.08 208.10 L436.04 211.13 L437.00 214.21 L437.96 217.37 L438.92 220.58 L439.88 223.86 L440.84 227.21 L441.80 230.62 L442.76 234.10 L443.72 237.65 L444.68 241.28 L445.64 244.97 L446.60 248.73 L447.56 252.56 L448.52 256.47 L449.48 260.46 L450.44 264.51 L451.40 268.65 L452.36 272.86 L453.32 277.15 L454.28 281.52 L455.24 285.97 L456.20 290.50 L457.16 295.11 L458.12 299.80 L459.08 304.58 L460.04 309.44 L461.00 314.39 L461.96 319.42 L462.92 324.54 L463.88 329.75 L464.84 335.05 L465.80 340.44 L466.76 345.91 L467.72 351.48 L468.68 357.14 L469.64 362.89 L470.60 368.74 L471.56 374.68 L472.52 380.71 L473.48 386.84 L474.44 393.07 L475.40 399.39 L476.36 405.81 L477.32 412.33 L478.28 418.95 L479.24 425.66 L480.20 432.48 L481.16 439.40 L482.12 442.92 L483.08 442.92 L484.04 442.92 L485.00 442.92 L485.96 442.92 L486.92 442.92 L487.88 442.92 L488.84 442.92 L489.80 442.92 L490.76 442.92 L491.72 442.92 L492.68 442.92 L493.64 442.92 L494.60 442.92 L495.56 442.92 L496.52 442.92 L497.48 442.92 L498.44 442.92 L499.40 442.92 L500.36 442.92 L501.32 442.92 L502.28 442.92 L503.24 442.92 L504.20 442.92 L505.16 442.92 L506.12 442.92 L507.08 442.92 L508.04 442.92 L509.00 442.92" stroke="#ffb000"/>
<path d="M125.02 140.52 L125.98 140.25 L126.94 139.97 L127.89 139.70 L128.85 139.43 L129.81 139.16 L130.77 138.89 L131.73 138.61 L132.69 138.34 L133.65 138.07 L134.61 137.80 L135.57 137.53 L136.53 137.26 L137.49 136.99 L138.45 136.71 L139.41 136.44 L140.37 136.17 L141.33 135.90 L142.29 135.63 L143.25 135.36 L144.21 135.09 L145.17 134.82 L146.13 134.55 L147.09 134.28 L148.05 134.01 L149.01 133.74 L149.97 133.47 L150.93 133.20 L151.89 132.93 L152.85 132.66 L153.81 132.39 L154.77 132.12 L155.73 131.85 L156.69 131.58 L157.65 131.31 L158.61 131.04 L159.57 130.77 L160.53 130.50 L161.49 130.23 L162.45 129.96 L163.41 129.69 L164.37 129.42 L165.33 129.16 L166.29 128.89 L167.25 128.62 L168.21 128.35 L169.17 128.08 L170.13 127.82 L171.09 127.55 L172.05 127.28 L173.01 127.01 L173.97 126.75 L174.93 126.48 L175.89 126.21 L176.85 125.95 L177.81 125.68 L178.77 125.41 L179.73 125.15 L180.69 124.88 L181.65 124.62 L182.61 124.35 L183.57 124.09 L184.53 123.82 L185.49 123.56 L186.45 123.29 L187.41 123.03 L188.37 122.76 L189.33 122.50 L190.29 122.24 L191.25 121.97 L192.21 121.71 L193.17 121.45 L194.13 121.18 L195.09 120.92 L196.05 120.66 L197.01 120.40 L197.97 120.14 L198.93 119.88 L199.89 119.62 L200.85 119.36 L201.81 119.09 L202.77 118.84 L203.73 118.58 L204.69 118.32 L205.65 118.06 L206.61 117.80 L207.57 117.54 L208.53 117.28 L209.49 117.03 L210.45 116.77 L211.41 116.51 L212.37 116.26 L213.33 116.00 L214.29 115.75 L215.25 115.49 L216.21 115.24 L217.17 114.98 L218.13 114.73 L219.09 114.48 L220.05 114.22 L221.01 113.97 L221.97 113.72 L222.93 113.47 L223.89 113.22 L224.85 112.97 L225.81 112.72 L226.77 112.47 L227.73 112.22 L228.69 111.98 L229.65 111.73 L230.61 111.48 L231.57 111.24 L232.53 110.99 L233.49 110.75 L234.45 110.51 L235.41 110.26 L236.37 110.02 L237.33 109.78 L238.29 109.54 L239.25 109.30 L240.21 109.06 L241.17 108.82 L242.13 108.59 L243.09 108.35 L244.05 108.11 L245.01 107.88 L245.97 107.65 L246.93 107.41 L247.89 107.18 L248.85 106.95 L249.81 106.72 L250.77 106.49 L251.73 106.26 L252.69 106.04 L253.65 105.81 L254.61 105.59 L255.57 105.37 L256.53 105.14 L257.49 104.92 L258.45 104.70 L259.41 104.48 L260.37 104.27 L261.33 104.05 L262.29 103.84 L263.25 103.62 L264.21 103.41 L265.17 103.20 L266.13 102.99 L267.09 102.79 L268.05 102.58 L269.01 102.38 L269.97 102.17 L270.93 101.97 L271.89 101.78 L272.85 101.58 L273.81 101.38 L274.77 101.19 L275.73 101.00 L276.69 100.81 L277.65 100.62 L278.61 100.43 L279.57 100.25 L280.53 100.07 L281.49 99.89 L282.45 99.71 L283.41 99.53 L284.37 99.36 L285.33 99.19 L286.29 99.02 L287.25 98.86 L288.21 98.69 L289.17 98.53 L290.13 98.38 L291.09 98.22 L292.05 98.07 L293.01 97.92 L293.97 97.77 L294.93 97.63 L295.89 97.48 L296.85 97.35 L297.81 97.21 L298.77 97.08 L299.73 96.95 L300.69 96.83 L301.65 96.71 L302.61 96.59 L303.57 96.47 L304.53 96.36 L305.49 96.26 L306.45 96.15 L307.41 96.05 L308.37 95.96 L309.33 95.87 L310.29 95.78 L311.25 95.70 L312.21 95.62 L313.17 95.55 L314.13 95.48 L315.09 95.41 L316.05 95.35 L317.01 95.30 L317.97 95.25 L318.93 95.21 L319.89 95.17 L320.85 95.13 L321.81 95.11 L322.77 95.09 L323.73 95.07 L324.69 95.06 L325.65 95.05 L326.61 95.06 L327.57 95.06 L328.53 95.08 L329.49 95.10 L330.45 95.13 L331.41 95.17 L332.37 95.21 L333.33 95.26 L334.29 95.32 L335.25 95.38 L336.21 95.45 L337.17 95.53 L338.13 95.62 L339.09 95.72 L340.05 95.83 L341.01 95.94 L341.97 96.06 L342.93 96.20 L343.89 96.34 L344.85 96.49 L345.81 96.65 L346.77 96.83 L347.73 97.01 L348.69 97.20 L349.65 97.40 L350.61 97.62 L351.57 97.84 L352.53 98.08 L353.49 98.33 L354.45 98.59 L355.41 98.86 L356.37 99.15 L357.33 99.45 L358.29 99.76 L359.25 100.09 L360.21 100.43 L361.17 100.78 L362.13 101.15 L363.09 101.53 L364.05 101.93 L365.01 102.34 L365.97 102.77 L366.93 103.22 L367.89 103.68 L368.85 104.16 L369.81 104.65 L370.77 105.17 L371.73 105.70 L372.69 106.25 L373.65 106.82 L374.61 107.41 L375.57 108.02 L376.53 108.65 L377.49 109.30 L378.45 109.97 L379.41 110.67 L380.37 111.38 L381.33 112.12 L382.28 112.89 L383.24 113.67 L384.20 114.48 L385.16 115.32 L386.12 116.18 L387.08 117.07 L388.04 117.98 L389.00 118.92 L389.96 119.89 L390.92 120.89 L391.88 121.92 L392.84 122.98 L393.80 124.07 L394.76 125.18 L395.72 126.34 L396.68 127.52 L397.64 128.74 L398.60 129.99 L399.56 131.28 L400.52 132.61 L401.48 133.97 L402.44 135.37 L403.40 136.80 L404.36 138.28 L405.32 139.80 L406.28 141.35 L407.24 142.95 L408.20 144.60 L409.16 146.29 L410.12 148.02 L411.08 149.80 L412.04 151.63 L413.00 153.50 L413.96 155.43 L414.92 157.40 L415.88 159.43 L416.84 161.51 L417.80 163.64 L418.76 165.83 L419.72 168.08 L420.68 170.39 L421.64 172.75 L422.60 175.18 L423.56 177.67 L424.52 180.22 L425.48 182.83 L426.44 185.52 L427.40 188.27 L428.36 191.09 L429.32 193.98 L430.28 196.95 L431.24 199.99 L432.20 203.10 L433.16 206.30 L434.12 209.57 L435.08 212.93 L436.04 216.37 L437.00 219.89 L437.96 223.51 L438.92 227.21 L439.88 231.00 L440.84 234.89 L441.80 238.88 L442.76 242.96 L443.72 247.14 L444.68 251.43 L445.64 255.82 L446.60 260.32 L447.56 264.93 L448.52 269.65 L449.48 274.48 L450.44 279.44 L451.40 284.51 L452.36 289.71 L453.32 295.03 L454.28 300.48 L455.24 306.07 L456.20 311.79 L457.16 317.65 L458.12 323.65 L459.08 329.79 L460.04 336.08 L461.00 342.52 L461.96 349.12 L462.92 355.88 L463.88 362.80 L464.84 369.88 L465.80 377.14 L466.76 384.56 L467.72 392.17 L468.68 399.95 L469.64 407.93 L470.60 416.09 L471.56 424.44 L472.52 433.00 L473.48 441.76 L474.44 442.92 L475.40 442.92 L476.36 442.92 L477.32 442.92 L478.28 442.92 L479.24 442.92 L480.20 442.92 L481.16 442.92 L482.12 442.92 L483.08 442.92 L484.04 442.92 L485.00 442.92 L485.96 442.92 L486.92 442.92 L487.88 442.92 L488.84 442.92 L489.80 442.92 L490.76 442.92 L491.72 442.92 L492.68 442.92 L493.64 442.92 L494.60 442.92 L495.56 442.92 L496.52 442.92 L497.48 442.92 L498.44 442.92 L499.40 442.92 L500.36 442.92 L501.32 442.92 L502.28 442.92 L503.24 442.92 L504.20 442.92 L505.16 442.92 L506.12 442.92 L507.08 442.92 L508.04 442.92 L509.00 442.92" stroke="#ff0000"/>
</g>
<path d="M292.24 9.49 L300.98 9.49 L296.21 15.93 L298.60 15.93 L300.19 16.74 L300.98 17.54 L301.78 19.96 L301.78 21.57 L300.98 23.98 L299.39 25.59 L297.01 26.40 L294.62 26.40 L292.24 25.59 L291.44 24.79 L290.65 23.18 M307.34 9.49 L307.34 26.40 M307.34 9.49 L313.70 26.40 M320.06 9.49 L313.70 26.40 M320.06 9.49 L320.06 26.40 M326.42 9.49 L326.42 26.40 M337.55 9.49 L326.42 20.76 M330.40 16.74 L337.55 26.40 M118.04 349.92 L119.32 349.30 L121.24 347.41 L121.24 360.60 M208.64 349.92 L209.92 349.30 L211.84 347.41 L211.84 360.60 M223.36 347.41 L221.44 348.04 L220.16 349.92 L219.52 353.06 L219.52 354.95 L220.16 358.09 L221.44 359.97 L223.36 360.60 L224.64 360.60 L226.56 359.97 L227.84 358.09 L228.48 354.95 L228.48 353.06 L227.84 349.92 L226.56 348.04 L224.64 347.41 L223.36 347.41 M299.24 349.92 L300.52 349.30 L302.44 347.41 L302.44 360.60 M313.96 347.41 L312.04 348.04 L310.76 349.92 L310.12 353.06 L310.12 354.95 L310.76 358.09 L312.04 359.97 L313.96 360.60 L315.24 360.60 L317.16 359.97 L318.44 358.09 L319.08 354.95 L319.08 353.06 L318.44 349.92 L317.16 348.04 L315.24 347.41 L313.96 347.41 M326.76 347.41 L324.84 348.04 L323.56 349.92 L322.92 353.06 L322.92 354.95 L323.56 358.09 L324.84 359.97 L326.76 360.60 L328.04 360.60 L329.96 359.97 L331.24 358.09 L331.88 354.95 L331.88 353.06 L331.24 349.92 L329.96 348.04 L328.04 347.41 L326.76 347.41 M389.84 349.92 L391.12 349.30 L393.04 347.41 L393.04 360.60 M404.56 347.41 L402.64 348.04 L401.36 349.92 L400.72 353.06 L400.72 354.95 L401.36 358.09 L402.64 359.97 L404.56 360.60 L405.84 360.60 L407.76 359.97 L409.04 358.09 L409.68 354.95 L409.68 353.06 L409.04 349.92 L407.76 348.04 L405.84 347.41 L404.56 347.41 M417.36 347.41 L415.44 348.04 L414.16 349.92 L413.52 353.06 L413.52 354.95 L414.16 358.09 L415.44 359.97 L417.36 360.60 L418.64 360.60 L420.56 359.97 L421.84 358.09 L422.48 354.95 L422.48 353.06 L421.84 349.92 L420.56 348.04 L418.64 347.41 L417.36 347.41 M430.16 347.41 L428.24 348.04 L426.96 349.92 L426.32 353.06 L426.32 354.95 L426.96 358.09 L428.24 359.97 L430.16 360.60 L431.44 360.60 L433.36 359.97 L434.64 358.09 L435.28 354.95 L435.28 353.06 L434.64 349.92 L433.36 348.04 L431.44 347.41 L430.16 347.41 M480.44 349.92 L481.72 349.30 L483.64 347.41 L483.64 360.60 M495.16 347.41 L493.24 348.04 L491.96 349.92 L491.32 353.06 L491.32 354.95 L491.96 358.09 L493.24 359.97 L495.16 360.60 L496.44 360.60 L498.36 359.97 L499.64 358.09 L500.28 354.95 L500.28 353.06 L499.64 349.92 L498.36 348.04 L496.44 347.41 L495.16 347.41 M507.96 347.41 L506.04 348.04 L504.76 349.92 L504.12 353.06 L504.12 354.95 L504.76 358.09 L506.04 359.97 L507.96 360.60 L509.24 360.60 L511.16 359.97 L512.44 358.09 L513.08 354.95 L513.08 353.06 L512.44 349.92 L511.16 348.04 L509.24 347.41 L507.96 347.41 M520.76 347.41 L518.84 348.04 L517.56 349.92 L516.92 353.06 L516.92 354.95 L517.56 358.09 L518.84 359.97 L520.76 360.60 L522.04 360.60 L523.96 359.97 L525.24 358.09 L525.88 354.95 L525.88 353.06 L525.24 349.92 L523.96 348.04 L522.04 347.41 L520.76 347.41 M533.56 347.41 L531.64 348.04 L530.36 349.92 L529.72 353.06 L529.72 354.95 L530.36 358.09 L531.64 359.97 L533.56 360.60 L534.84 360.60 L536.76 359.97 L538.04 358.09 L538.68 354.95 L538.68 353.06 L538.04 349.92 L536.76 348.04 L534.84 347.41 L533.56 347.41 M285.38 372.71 L285.38 385.90 M285.38 372.71 L293.70 372.71 M285.38 378.99 L290.50 378.99 M285.38 385.90 L293.70 385.90 M312.26 370.20 L310.98 371.46 L309.70 373.34 L308.42 375.85 L307.78 378.99 L307.78 381.50 L308.42 384.64 L309.70 387.16 L310.98 389.04 L312.26 390.30 M316.10 380.88 L323.78 380.88 L323.78 379.62 L323.14 378.36 L322.50 377.74 L321.22 377.11 L319.30 377.11 L318.02 377.74 L316.74 378.99 L316.10 380.88 L316.10 382.13 L316.74 384.02 L318.02 385.27 L319.30 385.90 L321.22 385.90 L322.50 385.27 L323.78 384.02 M326.34 372.71 L331.46 385.90 M336.58 372.71 L331.46 385.90 M339.14 370.20 L340.42 371.46 L341.70 373.34 L342.98 375.85 L343.62 378.99 L343.62 381.50 L342.98 384.64 L341.70 387.16 L340.42 389.04 L339.14 390.30 M74.34 321.12 L75.62 320.50 L77.54 318.61 L77.54 331.80 M89.06 318.61 L87.14 319.24 L85.86 321.12 L85.22 324.26 L85.22 326.15 L85.86 329.29 L87.14 331.17 L89.06 331.80 L90.34 331.80 L92.26 331.17 L93.54 329.29 L94.18 326.15 L94.18 324.26 L93.54 321.12 L92.26 319.24 L90.34 318.61 L89.06 318.61 M98.39 318.89 L104.37 318.89 M113.35 314.16 L109.52 321.80 M107.98 314.16 L113.35 314.16 M74.34 273.71 L75.62 273.09 L77.54 271.20 L77.54 284.39 M89.06 271.20 L87.14 271.83 L85.86 273.71 L85.22 276.85 L85.22 278.74 L85.86 281.88 L87.14 283.76 L89.06 284.39 L90.34 284.39 L92.26 283.76 L93.54 281.88 L94.18 278.74 L94.18 276.85 L93.54 273.71 L92.26 271.83 L90.34 271.20 L89.06 271.20 M98.39 271.48 L104.37 271.48 M112.97 267.84 L112.59 267.11 L111.43 266.75 L110.67 266.75 L109.52 267.11 L108.75 268.20 L108.36 270.02 L108.36 271.84 L108.75 273.30 L109.52 274.03 L110.67 274.39 L111.05 274.39 L112.20 274.03 L112.97 273.30 L113.35 272.21 L113.35 271.84 L112.97 270.75 L112.20 270.02 L111.05 269.66 L110.67 269.66 L109.52 270.02 L108.75 270.75 L108.36 271.84 M74.34 218.25 L75.62 217.62 L77.54 215.74 L77.54 228.93 M89.06 215.74 L87.14 216.37 L85.86 218.25 L85.22 221.39 L85.22 223.28 L85.86 226.42 L87.14 228.30 L89.06 228.93 L90.34 228.93 L92.26 228.30 L93.54 226.42 L94.18 223.28 L94.18 221.39 L93.54 218.25 L92.26 216.37 L90.34 215.74 L89.06 215.74 M98.39 216.02 L104.37 216.02 M112.59 211.28 L108.75 211.28 L108.36 214.56 L108.75 214.20 L109.90 213.83 L111.05 213.83 L112.20 214.20 L112.97 214.92 L113.35 216.02 L113.35 216.74 L112.97 217.84 L112.20 218.56 L111.05 218.93 L109.90 218.93 L108.75 218.56 L108.36 218.20 L107.98 217.47 M74.34 162.79 L75.62 162.16 L77.54 160.28 L77.54 173.47 M89.06 160.28 L87.14 160.91 L85.86 162.79 L85.22 165.93 L85.22 167.82 L85.86 170.96 L87.14 172.84 L89.06 173.47 L90.34 173.47 L92.26 172.84 L93.54 170.96 L94.18 167.82 L94.18 165.93 L93.54 162.79 L92.26 160.91 L90.34 160.28 L89.06 160.28 M98.39 160.56 L104.37 160.56 M111.82 155.82 L107.98 160.92 L113.74 160.92 M111.82 155.82 L111.82 163.47 M74.34 107.33 L75.62 106.70 L77.54 104.82 L77.54 118.01 M89.06 104.82 L87.14 105.45 L85.86 107.33 L85.22 110.47 L85.22 112.35 L85.86 115.49 L87.14 117.38 L89.06 118.01 L90.34 118.01 L92.26 117.38 L93.54 115.49 L94.18 112.35 L94.18 110.47 L93.54 107.33 L92.26 105.45 L90.34 104.82 L89.06 104.82 M98.39 105.09 L104.37 105.09 M108.75 100.36 L112.97 100.36 L110.67 103.27 L111.82 103.27 L112.59 103.64 L112.97 104.00 L113.35 105.09 L113.35 105.82 L112.97 106.91 L112.20 107.64 L111.05 108.01 L109.90 108.01 L108.75 107.64 L108.36 107.28 L107.98 106.55 M74.34 51.87 L75.62 51.24 L77.54 49.36 L77.54 62.55 M89.06 49.36 L87.14 49.99 L85.86 51.87 L85.22 55.01 L85.22 56.89 L85.86 60.03 L87.14 61.92 L89.06 62.55 L90.34 62.55 L92.26 61.92 L93.54 60.03 L94.18 56.89 L94.18 55.01 L93.54 51.87 L92.26 49.99 L90.34 49.36 L89.06 49.36 M98.39 49.63 L104.37 49.63 M108.36 46.72 L108.36 46.36 L108.75 45.63 L109.13 45.27 L109.90 44.90 L111.43 44.90 L112.20 45.27 L112.59 45.63 L112.97 46.36 L112.97 47.09 L112.59 47.81 L111.82 48.91 L107.98 52.55 L113.35 52.55" fill="none" stroke="#000" stroke-width="0.78" stroke-linecap="round" stroke-linejoin="round"/>
<g transform="translate(53.50 185.60) rotate(-90)"><path d="M-21.27 -13.76 L-22.54 -13.76 L-23.81 -13.10 L-24.45 -11.13 L-24.45 0.00 M-26.35 -9.17 L-21.91 -9.17 M-13.02 -16.38 L-14.29 -15.07 L-15.56 -13.10 L-16.83 -10.48 L-17.46 -7.21 L-17.46 -4.58 L-16.83 -1.31 L-15.56 1.31 L-14.29 3.28 L-13.02 4.58 M-8.57 -13.76 L-8.57 0.00 M-8.57 -13.76 L-0.32 -13.76 M-8.57 -7.21 L-3.49 -7.21 M-8.57 0.00 L-0.32 0.00 M4.76 -0.66 L4.13 0.00 L3.49 -0.66 L4.13 -1.31 L4.76 -0.66 L4.76 0.66 L4.13 1.97 L3.49 2.62 M11.11 -9.17 L8.57 0.00 M17.46 -8.52 L16.83 -9.17 L16.19 -9.17 L14.92 -8.52 L12.38 -5.90 L11.11 -5.24 L10.48 -5.24 M10.48 -5.24 L11.75 -4.58 L12.38 -3.93 L13.65 -0.66 L14.29 0.00 L14.92 0.00 L15.56 -0.66 M20.64 -16.38 L21.91 -15.07 L23.18 -13.10 L24.45 -10.48 L25.08 -7.21 L25.08 -4.58 L24.45 -1.31 L23.18 1.31 L21.91 3.28 L20.64 4.58" fill="none" stroke="#000" stroke-width="0.78" stroke-linecap="round" stroke-linejoin="round"/></g>
</svg>
</body></html>
